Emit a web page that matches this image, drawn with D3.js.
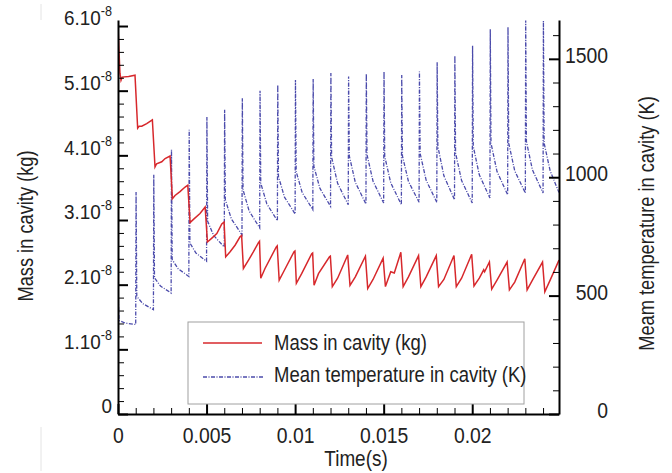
<!DOCTYPE html>
<html><head><meta charset="utf-8">
<script src="https://cdn.jsdelivr.net/npm/d3@7/dist/d3.min.js"></script>
<style>
body{margin:0;background:#fff}
text{font-family:"Liberation Sans",Arial,sans-serif;fill:#222}
</style>
</head><body>
<svg id="c" width="672" height="473"></svg>
<script>
// ---------- data ----------
const massTicks = [0,1,2,3,4,5,6];             // x 1e-8 kg
const tempTicks = [0,500,1000,1500];
const timeTicks = [0,0.005,0.01,0.015,0.02];
const timeTickLabels = ["0","0.005","0.01","0.015","0.02"];

// Mass in cavity (units of 1e-8 kg)
const massTime = [0,0.00011,0.00017,0.00024,0.0006,0.00096,
  0.00111,0.00119,0.00134,0.00162,0.00194,
  0.00209,0.00218,0.00247,0.00266,0.00294,
  0.00307,0.00322,0.0035,0.00379,0.00394,
  0.00407,0.00426,0.00463,0.00492,
  0.00505,0.0053,0.00558,0.00586,0.00599,
  0.00608,0.00633,0.00661,0.00689,0.00698,
  0.00708,0.00737,0.00765,0.00793,0.00799,
  0.00806,0.0083,0.00893,0.00899,
  0.0091,0.00935,0.00994,0.00999,
  0.01007,0.01037,0.01094,0.01099,
  0.01107,0.01132,0.01194,0.01199,
  0.0121,0.0124,0.01297,
  0.0131,0.0134,0.01397,
  0.0141,0.0144,0.01497,
  0.0151,0.0154,0.0156,0.01597,
  0.0161,0.0164,0.01697,
  0.0171,0.0174,0.01797,
  0.0181,0.0184,0.01897,
  0.0191,0.0194,0.01997,
  0.0201,0.0204,0.02065,0.0207,0.02097,
  0.0211,0.0214,0.02197,
  0.0221,0.0224,0.02297,
  0.0231,0.0234,0.02397,
  0.0241,0.0244,0.0249];
const massValue = [5.99,5.27,5.16,5.21,5.22,5.24,
  4.42,4.45,4.45,4.49,4.55,
  3.82,3.87,3.90,3.95,3.99,
  3.33,3.38,3.44,3.51,3.54,
  2.96,3.01,3.10,3.20,
  2.66,2.72,2.79,2.94,2.97,
  2.43,2.51,2.61,2.74,2.76,
  2.25,2.38,2.51,2.65,2.67,
  2.10,2.25,2.58,2.60,
  2.07,2.20,2.51,2.52,
  2.02,2.17,2.48,2.49,
  1.99,2.17,2.43,2.44,
  1.97,2.10,2.46,
  1.99,2.12,2.44,
  1.94,2.08,2.41,
  1.97,2.20,2.18,2.50,
  1.97,2.12,2.45,
  1.97,2.12,2.45,
  1.97,2.08,2.45,
  1.97,2.10,2.47,
  1.98,2.10,2.23,2.20,2.35,
  1.93,2.07,2.35,
  1.92,2.04,2.40,
  1.92,2.07,2.35,
  1.89,2.07,2.38];

// Mean temperature in cavity (K): start, then one cycle per spike
const tempStartTime = [0,0.00006,0.0004];
const tempStartValue = [520,395,384];
const spikeTime = [0.001,0.002,0.003,0.004,0.005,0.006,0.007,0.008,0.009,0.010,0.011,0.012,
                   0.013,0.014,0.015,0.016,0.017,0.018,0.019,0.020,0.021,0.022,0.023,0.024];
const tempBefore = [378,441,511,581,645,705,757,786,816,845,863,877,884,887,891,884,894,894,905,891,912,926,933,933];
const tempPeak  = [938,1010,1116,1200,1254,1285,1334,1365,1390,1411,1415,1440,1425,1437,1446,1432,1446,1486,1513,1555,1625,1634,1662,1660];
const tempKnee  = [497,575,652,722,814,905,947,975,1003,1024,1046,1085,1090,1095,1088,1090,1100,1130,1102,1130,1144,1144,1151,1144];
const tempMid   = [466,540,613,680,754,824,858,888,916,935,953,974,978,983,976,982,987,1006,986,1010,1024,1027,1031,1027];
const tempEndTime = 0.0249, tempEndValue = 935;

// ---------- build series ----------
const massData = massTime.map((t,i)=>[t,massValue[i]]);
const tempData = tempStartTime.map((t,i)=>[t,tempStartValue[i]]);
spikeTime.forEach((t,i)=>{
  tempData.push([t,tempBefore[i]]);
  tempData.push([t+0.00002,tempPeak[i]]);
  tempData.push([t+0.00006,tempKnee[i]]);
  tempData.push([t+0.0004,tempMid[i]]);
});
tempData.push([tempEndTime,tempEndValue]);

// ---------- scales ----------
const L=118,R=559,T=20,B=414;
const x = d3.scaleLinear([0,0.0249],[L,R]);
const yM = d3.scaleLinear([0,6.093],[B,T]);
const yT = d3.scaleLinear([0,1664],[B,T]);

const svg = d3.select("#c");
const RED="#d7282c", BLUE="#4b4bab";

// horizontal condensing about the text anchor (narrow typeface look)
function condense(sel,f){
  sel.each(function(){
    const e=d3.select(this);
    const ax=+(e.attr("x")||0);
    e.attr("transform",`matrix(${f},0,0,1,${ax*(1-f)},0)`);
  });
}

// scan artefact lines
svg.append("line").attr("x1",41).attr("x2",41).attr("y1",4).attr("y2",20).attr("stroke","#e4e4e4");
svg.append("line").attr("x1",41).attr("x2",41).attr("y1",427).attr("y2",471).attr("stroke","#e4e4e4");

svg.append("clipPath").attr("id","clip").append("rect").attr("x",L).attr("y",T-2).attr("width",R-L).attr("height",B-T+2);

// lines
const plot = svg.append("g").attr("clip-path","url(#clip)");
plot.append("path").datum(tempData)
  .attr("d",d3.line().x(d=>x(d[0])).y(d=>yT(d[1])))
  .attr("fill","none").attr("stroke",BLUE).attr("stroke-width",1.3)
  .attr("stroke-dasharray","4,1.5,1,1.5");
plot.append("path").datum(massData)
  .attr("d",d3.line().x(d=>x(d[0])).y(d=>yM(d[1])))
  .attr("fill","none").attr("stroke",RED).attr("stroke-width",1.5);

// ---------- axes ----------
function styleAxis(g){
  g.select(".domain").attr("stroke","#000").attr("stroke-width",2);
  g.selectAll(".tick line").attr("stroke","#000").attr("stroke-width",2);
  g.selectAll("text").attr("font-size",22).attr("fill","#222")
   .attr("font-family",'"Liberation Sans",Arial,sans-serif');
}
function minor(g){ g.select(".domain").remove(); g.selectAll(".tick line").attr("stroke","#000").attr("stroke-width",1); g.selectAll("text").remove(); }

// minor ticks
const massMinor=[]; for(let v=0.2; v<6.05; v+=0.2){ if(Math.abs(v-Math.round(v))>0.01) massMinor.push(v); }
const tempMinor=[]; for(let v=100; v<=1600; v+=100){ if(v%500!==0) tempMinor.push(v); }
const timeMinor=[]; for(let k=1;k<=24;k++){ if(k%5!==0) timeMinor.push(k*0.001); }

svg.append("g").attr("transform",`translate(${L},0)`)
  .call(d3.axisLeft(yM).tickValues(massMinor).tickSize(-6).tickFormat("")).call(minor);
svg.append("g").attr("transform",`translate(${R},0)`)
  .call(d3.axisRight(yT).tickValues(tempMinor).tickSize(-6).tickFormat("")).call(minor);
svg.append("g").attr("transform",`translate(0,${B})`)
  .call(d3.axisBottom(x).tickValues(timeMinor).tickSize(-6).tickFormat("")).call(minor);

// left major
const gl = svg.append("g").attr("transform",`translate(${L},0)`)
  .call(d3.axisLeft(yM).tickValues(massTicks).tickSize(-10).tickSizeOuter(0).tickPadding(6).tickFormat(""));
styleAxis(gl);
gl.selectAll(".tick text").attr("font-size",21).attr("dy","-0.05em").each(function(d){
  const t=d3.select(this);
  if(d===0){ t.text("0"); }
  else{
    t.append("tspan").text(d+".10");
    t.append("tspan").attr("dy",-9).attr("font-size",14).text("-8");
  }
});
condense(gl.selectAll(".tick text"),0.9);

// right major
const gr = svg.append("g").attr("transform",`translate(${R},0)`)
  .call(d3.axisRight(yT).tickValues(tempTicks).tickSize(-10).tickSizeOuter(0).tickPadding(49).tickFormat(d3.format("d")));
styleAxis(gr);
gr.selectAll(".tick text").attr("text-anchor","end").attr("dy","0.17em");
condense(gr.selectAll(".tick text"),0.88);

// bottom major
const gb = svg.append("g").attr("transform",`translate(0,${B})`)
  .call(d3.axisBottom(x).tickValues(timeTicks).tickSize(-10).tickSizeOuter(0).tickPadding(13)
        .tickFormat((d,i)=>timeTickLabels[i]));
styleAxis(gb);
condense(gb.selectAll(".tick text"),0.88);

// titles
svg.append("text").attr("transform","translate(33,226) rotate(-90) scale(0.83,1)").attr("text-anchor","middle")
  .attr("font-size",22).text("Mass in cavity (kg)");
svg.append("text").attr("transform","translate(654,223.5) rotate(-90) scale(0.83,1)").attr("text-anchor","middle")
  .attr("font-size",22).text("Meam temperature in cavity (K)");
svg.append("text").attr("transform","translate(356,466) scale(0.86,1)").attr("text-anchor","middle")
  .attr("font-size",22).text("Time(s)");

// legend
const lg = svg.append("g");
lg.append("rect").attr("x",188).attr("y",322).attr("width",336).attr("height",82)
  .attr("fill","#fff").attr("stroke","#a0a0a0").attr("stroke-width",1);
lg.append("line").attr("x1",203).attr("x2",262).attr("y1",343).attr("y2",343).attr("stroke",RED).attr("stroke-width",1.5);
lg.append("line").attr("x1",203).attr("x2",264).attr("y1",377).attr("y2",377).attr("stroke",BLUE).attr("stroke-width",1.3)
  .attr("stroke-dasharray","4,1.5,1,1.5");
lg.append("text").attr("transform","translate(274,350) scale(0.84,1)").attr("font-size",22).text("Mass in cavity (kg)");
lg.append("text").attr("transform","translate(274,382) scale(0.84,1)").attr("font-size",22).text("Mean temperature in cavity (K)");
</script>
</body></html>
